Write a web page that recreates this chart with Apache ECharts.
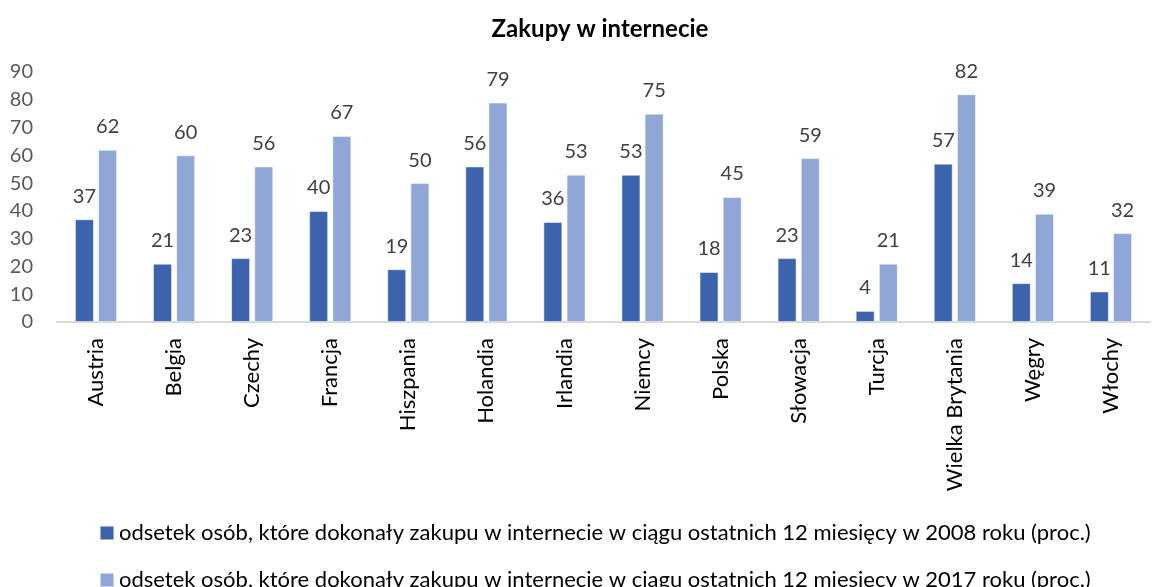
<!DOCTYPE html>
<html>
<head>
<meta charset="utf-8">
<title>Zakupy w internecie</title>
<script src="https://cdn.jsdelivr.net/npm/echarts@6/dist/echarts.min.js"></script>
<style>
  html, body { margin: 0; padding: 0; background: #fff; }
  #chart { width: 1157px; height: 587px; }
</style>
</head>
<body>
<div id="chart"></div>
<script>
    // dane
    var countries = ['Austria', 'Belgia', 'Czechy', 'Francja', 'Hiszpania', 'Holandia', 'Irlandia',
        'Niemcy', 'Polska', 'Słowacja', 'Turcja', 'Wielka Brytania', 'Węgry', 'Włochy'];
    var values2008 = [37, 21, 23, 40, 19, 56, 36, 53, 18, 23, 4, 57, 14, 11];
    var values2017 = [62, 60, 56, 67, 50, 79, 53, 75, 45, 59, 21, 82, 39, 32];
    var name2008 = 'odsetek osób, które dokonały zakupu w internecie w ciągu ostatnich 12 miesięcy w 2008 roku (proc.)';
    var name2017 = 'odsetek osób, które dokonały zakupu w internecie w ciągu ostatnich 12 miesięcy w 2017 roku (proc.)';

    var font = 'Lato, "Noto Sans", sans-serif';

    function barSeries(name, data, color) {
        return {
            name: name,
            type: 'bar',
            data: data,
            barWidth: 19,
            barGap: '22%',
            itemStyle: { color: color, borderColor: 'rgba(255,255,255,0.5)', borderWidth: 1 },
            label: {
                show: true,
                position: 'top',
                distance: 13,
                color: '#404040',
                fontSize: 20,
                fontFamily: font
            }
        };
    }

    function legendRow(name, top) {
        return {
            left: 94,
            top: top,
            itemWidth: 14,
            itemHeight: 14,
            icon: 'rect',
            textStyle: { fontSize: 22, color: '#000', fontFamily: font },
            data: [name]
        };
    }

    var option = {
        backgroundColor: '#fff',
        animation: false,
        title: {
            text: 'Zakupy w internecie',
            left: 595,
            textAlign: 'center',
            top: 12,
            textStyle: { fontSize: 24, fontWeight: 'bold', color: '#000', fontFamily: font }
        },
        legend: [legendRow(name2008, 517), legendRow(name2017, 564)],
        grid: { left: 57, right: 7, top: 72, bottom: 265, containLabel: false },
        xAxis: {
            type: 'category',
            data: countries,
            axisLine: { lineStyle: { color: '#D9D9D9', width: 2 } },
            axisTick: { show: false },
            axisLabel: {
                rotate: 90,
                interval: 0,
                margin: 16,
                fontSize: 22,
                color: '#000',
                fontFamily: font
            }
        },
        yAxis: {
            type: 'value',
            min: 0,
            max: 90,
            interval: 10,
            splitLine: { show: false },
            axisLine: { show: false },
            axisTick: { show: false },
            axisLabel: { fontSize: 20, color: '#595959', margin: 24, fontFamily: font }
        },
        series: [
            barSeries(name2008, values2008, '#3C64AD'),
            barSeries(name2017, values2017, '#8FA6D6')
        ]
    };

    var chart = echarts.init(document.getElementById('chart'));
    chart.setOption(option);
</script>
</body>
</html>
